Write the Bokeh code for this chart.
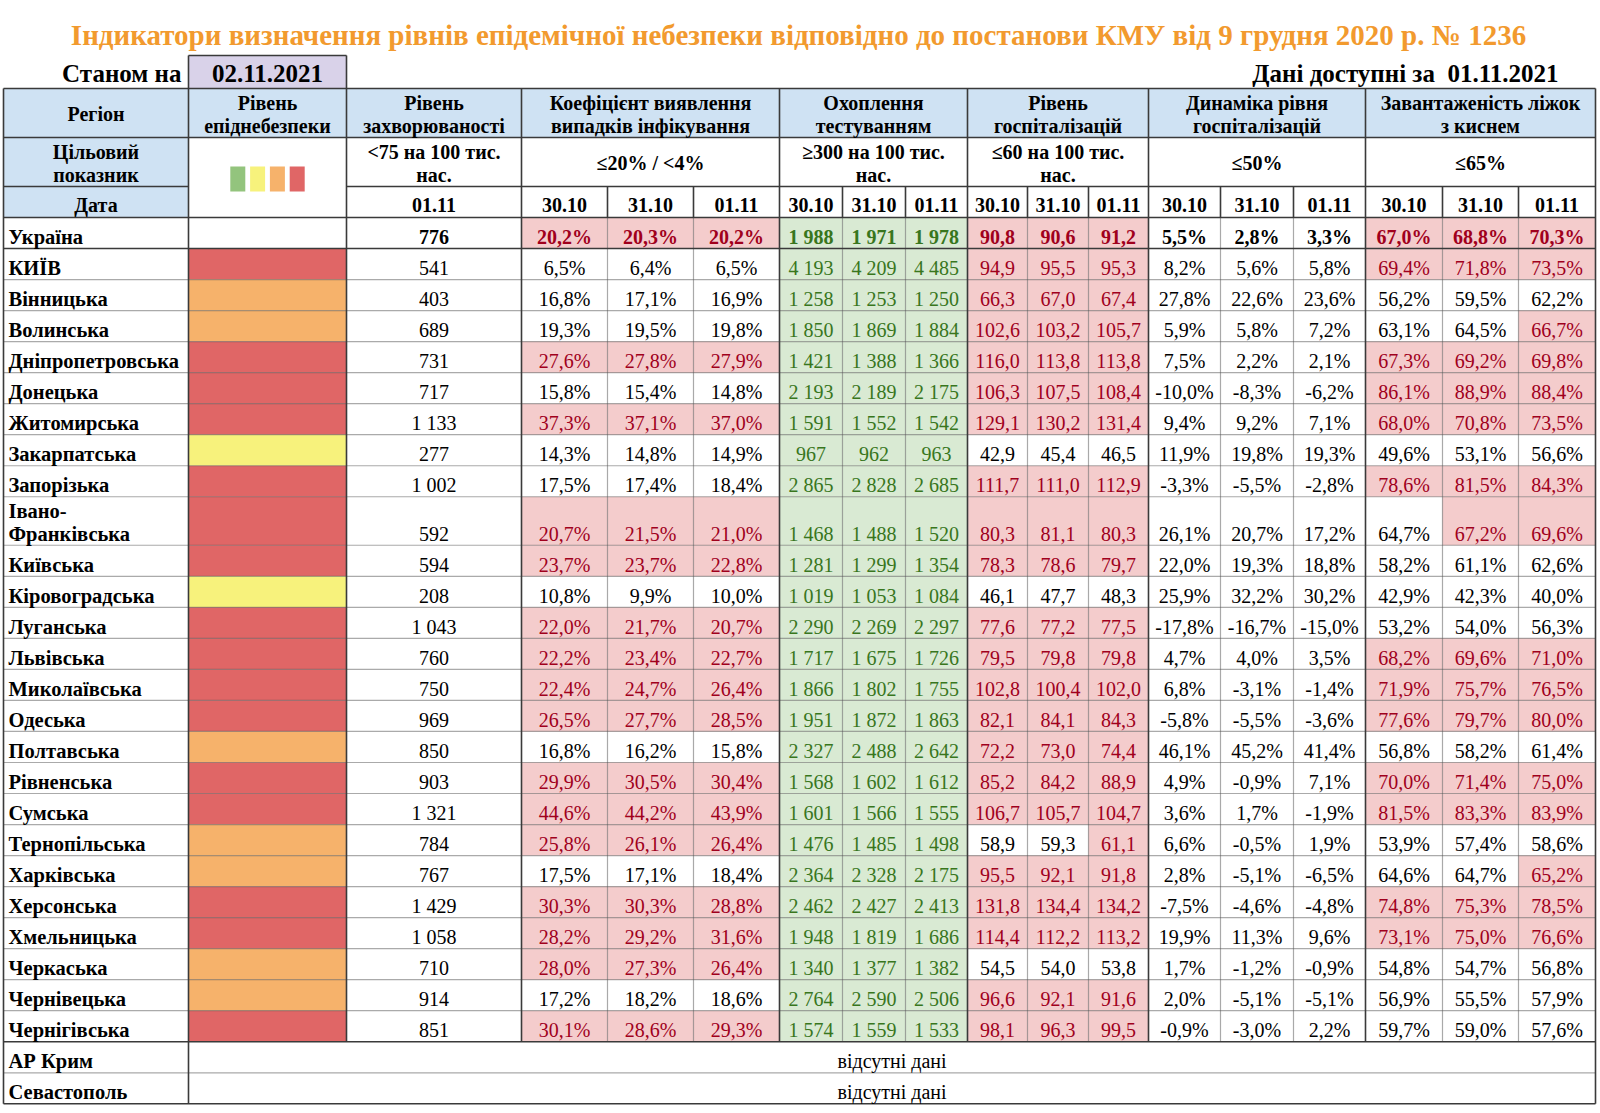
from bokeh.plotting import figure
from bokeh.models import ColumnDataSource, Range1d
from bokeh.core.properties import value, field
from bokeh.embed import file_html
from bokeh.resources import INLINE

# ---------------- data ----------------
title_text = "Індикатори визначення рівнів епідемічної небезпеки відповідно до постанови КМУ від 9 грудня 2020 р. № 1236"
as_of_label = "Станом на"
as_of_date = "02.11.2021"
data_label = "Дані доступні за\u00a0 01.11.2021"
dates = ["30.10", "31.10", "01.11"]
incidence_date = "01.11"

group_titles = [
    ["Рівень", "захворюваності"],
    ["Коефіцієнт виявлення", "випадків інфікування"],
    ["Охоплення", "тестуванням"],
    ["Рівень", "госпіталізацій"],
    ["Динаміка рівня", "госпіталізацій"],
    ["Завантаженість ліжок", "з киснем"],
]
group_targets = [
    ["<75 на 100 тис.", "нас."],
    ["≤20% / <4%"],
    ["≥300 на 100 тис.", "нас."],
    ["≤60 на 100 тис.", "нас."],
    ["≤50%"],
    ["≤65%"],
]
level_names = ["зелений", "жовтий", "помаранчевий", "червоний"]

regions = ["Україна", "КИЇВ", "Вінницька", "Волинська", "Дніпропетровська", "Донецька",
           "Житомирська", "Закарпатська", "Запорізька", "Івано-\nФранківська", "Київська",
           "Кіровоградська", "Луганська", "Львівська", "Миколаївська", "Одеська", "Полтавська",
           "Рівненська", "Сумська", "Тернопільська", "Харківська", "Херсонська", "Хмельницька",
           "Черкаська", "Чернівецька", "Чернігівська"]
levels = ["", "червоний", "помаранчевий", "помаранчевий", "червоний", "червоний",
          "червоний", "жовтий", "червоний", "червоний", "червоний",
          "жовтий", "червоний", "червоний", "червоний", "червоний", "помаранчевий",
          "червоний", "червоний", "помаранчевий", "помаранчевий", "червоний", "червоний",
          "помаранчевий", "помаранчевий", "червоний"]
incidence = [776, 541, 403, 689, 731, 717, 1133, 277, 1002, 592, 594, 208, 1043, 760, 750,
             969, 850, 903, 1321, 784, 767, 1429, 1058, 710, 914, 851]

coef_3010 = [20.2, 6.5, 16.8, 19.3, 27.6, 15.8, 37.3, 14.3, 17.5, 20.7, 23.7, 10.8, 22.0, 22.2,
             22.4, 26.5, 16.8, 29.9, 44.6, 25.8, 17.5, 30.3, 28.2, 28.0, 17.2, 30.1]
coef_3110 = [20.3, 6.4, 17.1, 19.5, 27.8, 15.4, 37.1, 14.8, 17.4, 21.5, 23.7, 9.9, 21.7, 23.4,
             24.7, 27.7, 16.2, 30.5, 44.2, 26.1, 17.1, 30.3, 29.2, 27.3, 18.2, 28.6]
coef_0111 = [20.2, 6.5, 16.9, 19.8, 27.9, 14.8, 37.0, 14.9, 18.4, 21.0, 22.8, 10.0, 20.7, 22.7,
             26.4, 28.5, 15.8, 30.4, 43.9, 26.4, 18.4, 28.8, 31.6, 26.4, 18.6, 29.3]

test_3010 = [1988, 4193, 1258, 1850, 1421, 2193, 1591, 967, 2865, 1468, 1281, 1019, 2290, 1717,
             1866, 1951, 2327, 1568, 1601, 1476, 2364, 2462, 1948, 1340, 2764, 1574]
test_3110 = [1971, 4209, 1253, 1869, 1388, 2189, 1552, 962, 2828, 1488, 1299, 1053, 2269, 1675,
             1802, 1872, 2488, 1602, 1566, 1485, 2328, 2427, 1819, 1377, 2590, 1559]
test_0111 = [1978, 4485, 1250, 1884, 1366, 2175, 1542, 963, 2685, 1520, 1354, 1084, 2297, 1726,
             1755, 1863, 2642, 1612, 1555, 1498, 2175, 2413, 1686, 1382, 2506, 1533]

hosp_3010 = [90.8, 94.9, 66.3, 102.6, 116.0, 106.3, 129.1, 42.9, 111.7, 80.3, 78.3, 46.1, 77.6,
             79.5, 102.8, 82.1, 72.2, 85.2, 106.7, 58.9, 95.5, 131.8, 114.4, 54.5, 96.6, 98.1]
hosp_3110 = [90.6, 95.5, 67.0, 103.2, 113.8, 107.5, 130.2, 45.4, 111.0, 81.1, 78.6, 47.7, 77.2,
             79.8, 100.4, 84.1, 73.0, 84.2, 105.7, 59.3, 92.1, 134.4, 112.2, 54.0, 92.1, 96.3]
hosp_0111 = [91.2, 95.3, 67.4, 105.7, 113.8, 108.4, 131.4, 46.5, 112.9, 80.3, 79.7, 48.3, 77.5,
             79.8, 102.0, 84.3, 74.4, 88.9, 104.7, 61.1, 91.8, 134.2, 113.2, 53.8, 91.6, 99.5]

dyn_3010 = [5.5, 8.2, 27.8, 5.9, 7.5, -10.0, 9.4, 11.9, -3.3, 26.1, 22.0, 25.9, -17.8, 4.7,
            6.8, -5.8, 46.1, 4.9, 3.6, 6.6, 2.8, -7.5, 19.9, 1.7, 2.0, -0.9]
dyn_3110 = [2.8, 5.6, 22.6, 5.8, 2.2, -8.3, 9.2, 19.8, -5.5, 20.7, 19.3, 32.2, -16.7, 4.0,
            -3.1, -5.5, 45.2, -0.9, 1.7, -0.5, -5.1, -4.6, 11.3, -1.2, -5.1, -3.0]
dyn_0111 = [3.3, 5.8, 23.6, 7.2, 2.1, -6.2, 7.1, 19.3, -2.8, 17.2, 18.8, 30.2, -15.0, 3.5,
            -1.4, -3.6, 41.4, 7.1, -1.9, 1.9, -6.5, -4.8, 9.6, -0.9, -5.1, 2.2]

beds_3010 = [67.0, 69.4, 56.2, 63.1, 67.3, 86.1, 68.0, 49.6, 78.6, 64.7, 58.2, 42.9, 53.2, 68.2,
             71.9, 77.6, 56.8, 70.0, 81.5, 53.9, 64.6, 74.8, 73.1, 54.8, 56.9, 59.7]
beds_3110 = [68.8, 71.8, 59.5, 64.5, 69.2, 88.9, 70.8, 53.1, 81.5, 67.2, 61.1, 42.3, 54.0, 69.6,
             75.7, 79.7, 58.2, 71.4, 83.3, 57.4, 64.7, 75.3, 75.0, 54.7, 55.5, 59.0]
beds_0111 = [70.3, 73.5, 62.2, 66.7, 69.8, 88.4, 73.5, 56.6, 84.3, 69.6, 62.6, 40.0, 56.3, 71.0,
             76.5, 80.0, 61.4, 75.0, 83.9, 58.6, 65.2, 78.5, 76.6, 56.8, 57.9, 57.6]

missing_regions = ["АР Крим", "Севастополь"]
missing_text = "відсутні дані"

# ---------------- style / layout ----------------
FONT = "Liberation Serif"
TITLE_COLOR = "#F29A2E"
HEADER_BLUE = "#CFE2F3"
LAVENDER = "#D9D2E9"
PINK = "#F4CCCC"
GREEN = "#D9EAD3"
RED_TXT = "#A0001C"
GREEN_TXT = "#38761D"
LINE = "#3a3a3a"
LEVEL_COLORS = {"зелений": "#93C47D", "жовтий": "#F7F27C", "помаранчевий": "#F6B26B",
                "червоний": "#E06666"}

col_edges = [3, 188, 346, 521, 607, 693, 779, 842, 905, 967, 1027, 1088, 1148, 1220, 1293,
             1365, 1442, 1518, 1595]
group_edges = [346, 521, 779, 967, 1148, 1365, 1595]
hdr_edges = [88, 137, 186, 217]
ROW_H = 31.03
TALL_H = 48.5
FS = "20px"
NAME_FS = "20.5px"
BIG = "25px"

fmt_int = lambda v: f"{v:,}".replace(",", " ")
fmt_dec = lambda v: f"{v:.1f}".replace(".", ",")
fmt_pct = lambda v: fmt_dec(v) + "%"

groups = [
    ([coef_3010, coef_3110, coef_0111], fmt_pct, lambda v: v > 20, (PINK, RED_TXT)),
    ([test_3010, test_3110, test_0111], fmt_int, lambda v: v >= 300, (GREEN, GREEN_TXT)),
    ([hosp_3010, hosp_3110, hosp_0111], fmt_dec, lambda v: v > 60, (PINK, RED_TXT)),
    ([dyn_3010, dyn_3110, dyn_0111], fmt_pct, lambda v: v > 50, (PINK, RED_TXT)),
    ([beds_3010, beds_3110, beds_0111], fmt_pct, lambda v: v > 65, (PINK, RED_TXT)),
]

# row edges for data rows
row_tops, row_bots = [], []
y = hdr_edges[-1]
for name in regions:
    h = TALL_H if "\n" in name else ROW_H
    row_tops.append(y)
    row_bots.append(y + h)
    y += h
miss_tops, miss_bots = [], []
for _ in missing_regions:
    miss_tops.append(y)
    miss_bots.append(y + ROW_H)
    y += ROW_H
TABLE_BOTTOM = y
X0, X1 = col_edges[0], col_edges[-1]

W, H = 1598, 1110
p = figure(width=W, height=H, x_range=Range1d(0, W), y_range=Range1d(H, 0),
           output_backend="svg", toolbar_location=None, min_border=0)
p.axis.visible = False
p.grid.visible = False
p.outline_line_color = None
p.background_fill_color = "white"
p.border_fill_color = "white"

# ---------------- fills ----------------
q = dict(left=[], right=[], top=[], bottom=[], color=[])


def add_quad(l, r, t, b, c):
    q["left"].append(l); q["right"].append(r); q["top"].append(t); q["bottom"].append(b)
    q["color"].append(c)


add_quad(col_edges[1], col_edges[2], 55, hdr_edges[0], LAVENDER)
add_quad(X0, X1, hdr_edges[0], hdr_edges[1], HEADER_BLUE)
add_quad(X0, col_edges[1], hdr_edges[1], hdr_edges[3], HEADER_BLUE)

for i, name in enumerate(regions):
    if levels[i]:
        add_quad(col_edges[1], col_edges[2], row_tops[i], row_bots[i], LEVEL_COLORS[levels[i]])
    ci = 3
    for series, fmt, rule, (fill, _) in groups:
        for s in series:
            if rule(s[i]):
                add_quad(col_edges[ci], col_edges[ci + 1], row_tops[i], row_bots[i], fill)
            ci += 1

# legend squares
lg_cx = (col_edges[1] + col_edges[2]) / 2
for k, ln in enumerate(level_names):
    cx = lg_cx + (k - 1.5) * 19.8
    add_quad(cx - 7.5, cx + 7.5, 166, 191, LEVEL_COLORS[ln])

p.quad(left="left", right="right", top="top", bottom="bottom", fill_color="color",
       line_color=None, source=ColumnDataSource(q))

# ---------------- lines ----------------
solid = dict(x0=[], y0=[], x1=[], y1=[])
dotted = dict(x0=[], y0=[], x1=[], y1=[])


def seg(d, x0, y0, x1, y1):
    d["x0"].append(x0); d["y0"].append(y0); d["x1"].append(x1); d["y1"].append(y1)


# Станом box
seg(solid, col_edges[1], 55, col_edges[2], 55)
seg(solid, col_edges[1], 55, col_edges[1], hdr_edges[0])
seg(solid, col_edges[2], 55, col_edges[2], hdr_edges[0])

for yy in [hdr_edges[0], hdr_edges[1], hdr_edges[3], row_bots[0], row_bots[-1], TABLE_BOTTOM]:
    seg(solid, X0, yy, X1, yy)
seg(solid, X0, hdr_edges[2], col_edges[1], hdr_edges[2])
seg(solid, col_edges[2], hdr_edges[2], X1, hdr_edges[2])
for yy in row_bots[1:-1]:
    seg(dotted, X0, yy, X1, yy)
for yy in miss_bots[:-1]:
    seg(dotted, X0, yy, X1, yy)

for xx in [X0, col_edges[1], X1]:
    seg(solid, xx, hdr_edges[0], xx, TABLE_BOTTOM)
for xx in group_edges[:-1]:
    seg(solid, xx, hdr_edges[0], xx, row_bots[-1])
for xx in col_edges[3:-1]:
    if xx in group_edges:
        continue
    seg(solid, xx, hdr_edges[2], xx, hdr_edges[3])
    seg(dotted, xx, hdr_edges[3], xx, row_bots[-1])

p.segment(x0="x0", y0="y0", x1="x1", y1="y1", line_color="#555555", line_width=1.2,
          line_dash="1 1", source=ColumnDataSource(dotted))
p.segment(x0="x0", y0="y0", x1="x1", y1="y1", line_color=LINE, line_width=1.6,
          source=ColumnDataSource(solid))

# ---------------- texts ----------------
t = dict(x=[], y=[], text=[], color=[], style=[], size=[], align=[])


def add_text(x, y, s, color="black", bold=True, size=FS, align="center"):
    t["x"].append(x); t["y"].append(y); t["text"].append(s); t["color"].append(color)
    t["style"].append("bold" if bold else "normal"); t["size"].append(size)
    t["align"].append(align)


def add_lines(x, yc, lines, gap=23, **kw):
    n = len(lines)
    for k, s in enumerate(lines):
        add_text(x, yc + (k - (n - 1) / 2) * gap, s, **kw)


add_text(798, 34, title_text, color=TITLE_COLOR, size="29px")
add_text(181, 73, as_of_label, size=BIG, align="right")
add_text((col_edges[1] + col_edges[2]) / 2, 73, as_of_date, size=BIG)
add_text(1558, 73, data_label, size=BIG, align="right")

h1c = (hdr_edges[0] + hdr_edges[1]) / 2 + 1
h2c = (hdr_edges[1] + hdr_edges[2]) / 2 + 1
h3c = hdr_edges[3] - 13
cmid = lambda a, b: (col_edges[a] + col_edges[b]) / 2
add_text(cmid(0, 1), h1c, "Регіон")
add_lines(cmid(1, 2), h1c, ["Рівень", "епіднебезпеки"])
add_lines(cmid(0, 1), h2c, ["Цільовий", "показник"])
add_text(cmid(0, 1), h3c, "Дата")
add_text(cmid(2, 3), h3c, incidence_date)

gcols = [(2, 3), (3, 6), (6, 9), (9, 12), (12, 15), (15, 18)]
for (a, b), ttl, tgt in zip(gcols, group_titles, group_targets):
    add_lines(cmid(a, b), h1c, ttl)
    add_lines(cmid(a, b), h2c, tgt)
for c in range(3, 18):
    add_text(cmid(c, c + 1), h3c, dates[(c - 3) % 3])

for i, name in enumerate(regions):
    yb = row_bots[i] - 11.5
    bold_row = i == 0
    parts = name.split("\n")
    for k, s in enumerate(reversed(parts)):
        add_text(8, yb - 23 * k, s, align="left", size=NAME_FS)
    add_text(cmid(2, 3), yb, fmt_int(incidence[i]), bold=bold_row)
    ci = 3
    for series, fmt, rule, (_, tcol) in groups:
        for s in series:
            col = tcol if rule(s[i]) else "black"
            add_text(cmid(ci, ci + 1), yb, fmt(s[i]), color=col, bold=bold_row)
            ci += 1

for k, name in enumerate(missing_regions):
    yb = miss_bots[k] - 11.5
    add_text(8, yb, name, align="left", size=NAME_FS)
    add_text((col_edges[1] + X1) / 2, yb, missing_text, bold=False)

p.text(x="x", y="y", text="text", text_color=field("color"), text_font=value(FONT),
       text_font_style=field("style"), text_font_size=field("size"),
       text_align=field("align"), text_baseline="middle", source=ColumnDataSource(t))

open("out.html", "w").write(file_html(p, INLINE))
